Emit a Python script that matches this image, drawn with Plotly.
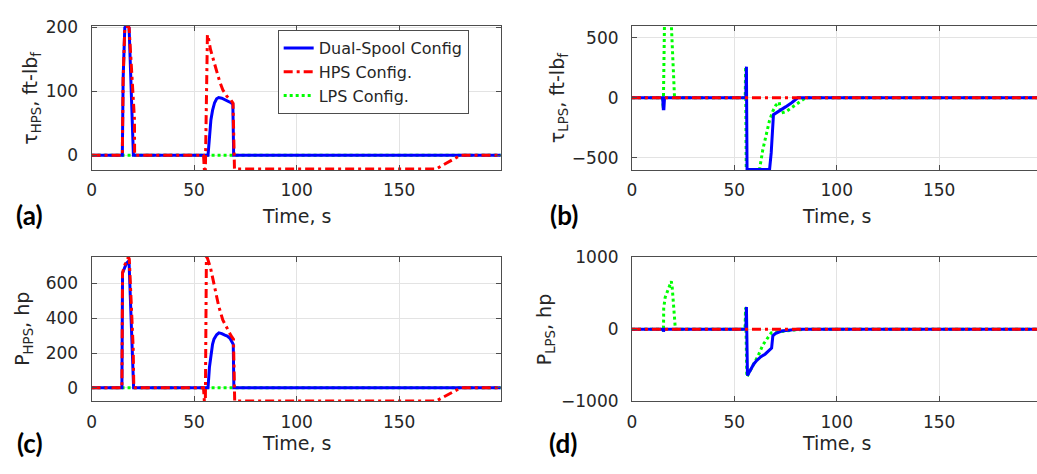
import plotly.graph_objects as go

W, H = 1037, 474

# ---------------- data ----------------
# Panel (a): tau_HPS, ft-lbf
a_dual_t = [0, 15.0, 15.4, 16.2, 16.8, 17.8, 18.3, 20.4, 56.8, 57.4, 58.2, 59.0, 60.0, 61.0, 62.0, 63.5, 65.0, 66.5, 68.0, 68.9, 69.3, 200]
a_dual_v = [0, 0, 120, 199, 201, 201, 199, 0, 0, 30, 55, 70, 82, 88, 90, 89, 87, 85, 82, 80, 0, 0]
a_hps_t = [0, 15.0, 15.4, 16.2, 16.8, 17.8, 18.3, 20.6, 20.9, 21.0, 54.6, 55.0, 55.5, 56.5, 57.0, 58.0, 60.0, 61.3, 62.5, 64.0, 66.0, 68.0, 69.0, 69.7, 168, 180, 200]
a_hps_v = [0, 0, 120, 199, 201, 201, 199, 62, 57, 0, 0, -21.5, -21.5, 188, 183, 165, 140, 128, 115, 102, 92, 86, 81, -21.5, -21.5, 0, 0]
a_lps_t = [0, 200]
a_lps_v = [0, 0]

# Panel (b): tau_LPS, ft-lbf
b_dual_t = [0, 15.0, 15.3, 15.6, 15.9, 55.6, 55.9, 56.2, 67.2, 68.0, 69.1, 72.0, 75.0, 78.0, 81.0, 200]
b_dual_v = [0, 0, -90, -90, 0, 0, 260, -596, -596, -458, -140, -110, -75, -40, 0, 0]
b_hps_t = [0, 200]
b_hps_v = [0, 0]
b_lps_t = [0, 14.9, 15.3, 15.95, 19.0, 20.8, 55.3, 55.5, 55.8, 62.3, 63.9, 65.5, 67.1, 68.7, 70.3, 71.9, 72.7, 75.2, 78.4, 83.2, 84.8, 200]
b_lps_v = [0, 0, -90, 700, 700, 0, 0, 260, -596, -596, -431, -312, -193, -114, -61, -35, -127, -114, -75, -21, 0, 0]

# Panel (c): P_HPS, hp
c_dual_t = [0, 14.8, 15.1, 16.0, 17.0, 17.8, 18.3, 20.5, 56.8, 57.5, 58.1, 59.0, 59.7, 61.0, 62.1, 63.5, 65.0, 66.2, 67.5, 68.6, 69.1, 69.4, 200]
c_dual_v = [0, 0, 660, 690, 715, 725, 715, 0, 0, 120, 188, 250, 280, 305, 316, 312, 303, 298, 285, 261, 250, 0, 0]
c_hps_t = [0, 14.8, 15.1, 16.0, 17.2, 18.0, 18.4, 20.3, 20.6, 54.6, 55.0, 55.5, 56.0, 56.5, 58.0, 60.0, 61.3, 62.0, 64.0, 66.0, 68.0, 69.2, 69.8, 168, 180, 200]
c_hps_v = [0, 0, 660, 700, 735, 750, 740, 225, 0, 0, -76, -76, 749, 745, 690, 580, 500, 470, 390, 340, 300, 280, -76, -76, 0, 0]
c_lps_t = [0, 200]
c_lps_v = [0, 0]

# Panel (d): P_LPS, hp
d_dual_t = [0, 15.1, 15.4, 15.8, 55.6, 55.9, 56.4, 58.0, 59.5, 61.0, 63.0, 65.0, 67.0, 68.2, 68.8, 70.0, 73.0, 77.0, 81.0, 200]
d_dual_v = [0, 0, -30, 0, 0, 310, -640, -560, -480, -430, -380, -345, -290, -260, -90, -60, -25, -8, 0, 0]
d_hps_t = [0, 200]
d_hps_v = [0, 0]
d_lps_t = [0, 15.1, 15.4, 15.5, 16.2, 17.5, 18.5, 19.2, 19.6, 20.2, 20.9, 21.2, 55.2, 55.5, 56.1, 58.0, 59.5, 61.5, 63.9, 66.4, 68.0, 72.0, 76.0, 80.0, 85.0, 200]
d_lps_v = [0, 0, -30, 290, 440, 540, 610, 665, 600, 350, 80, 0, 0, 300, -660, -560, -480, -374, -218, -107, -49, -35, -20, -8, 0, 0]

x_ticks = [0, 50, 100, 150]
a_yticks = [0, 100, 200]
b_yticks = [-500, 0, 500]
c_yticks = [0, 200, 400, 600]
d_yticks = [-1000, 0, 1000]

names = ["Dual-Spool Config", "HPS Config.", "LPS Config."]

# ---------------- styling ----------------
BLUE, RED, GREEN = "#0000ff", "#ff0000", "#00ff00"
TXT = "#262626"
FRAME = "#4d4d4d"
GRID = "#e3e3e3"
FONT = "DejaVu Sans, Arial, sans-serif"

fig = go.Figure()

panels = [
    ("x", "y", (a_dual_t, a_dual_v), (a_hps_t, a_hps_v), (a_lps_t, a_lps_v), True),
    ("x2", "y2", (b_dual_t, b_dual_v), (b_hps_t, b_hps_v), (b_lps_t, b_lps_v), False),
    ("x3", "y3", (c_dual_t, c_dual_v), (c_hps_t, c_hps_v), (c_lps_t, c_lps_v), False),
    ("x4", "y4", (d_dual_t, d_dual_v), (d_hps_t, d_hps_v), (d_lps_t, d_lps_v), False),
]

for xa, ya, dual, hps, lps, show in panels:
    # draw order: green (bottom), blue, red (top)
    fig.add_trace(go.Scatter(x=lps[0], y=lps[1], mode="lines", name=names[2],
                             line=dict(color=GREEN, width=3, dash="3px,3px"),
                             xaxis=xa, yaxis=ya, showlegend=show, legendrank=3))
    fig.add_trace(go.Scatter(x=dual[0], y=dual[1], mode="lines", name=names[0],
                             line=dict(color=BLUE, width=3),
                             xaxis=xa, yaxis=ya, showlegend=show, legendrank=1))
    fig.add_trace(go.Scatter(x=hps[0], y=hps[1], mode="lines", name=names[1],
                             line=dict(color=RED, width=3, dash="9px,4px,3px,4px"),
                             xaxis=xa, yaxis=ya, showlegend=show, legendrank=2))


def fx(p):
    return p / W


def fy(p):
    return 1 - p / H


common_x = dict(tickvals=x_ticks, showgrid=True, gridcolor=GRID, gridwidth=1,
                zeroline=False, showline=True, linecolor=FRAME, linewidth=1,
                ticks="inside", ticklen=5, tickcolor=FRAME,
                tickfont=dict(family=FONT, size=17, color=TXT), ticklabelstandoff=5)
common_y = dict(showgrid=True, gridcolor=GRID, gridwidth=1,
                zeroline=False, showline=True, linecolor=FRAME, linewidth=1,
                ticks="inside", ticklen=5, tickcolor=FRAME,
                tickfont=dict(family=FONT, size=17, color=TXT), ticklabelstandoff=9)

fig.update_layout(
    width=W, height=H,
    margin=dict(l=0, r=0, t=0, b=0),
    paper_bgcolor="white", plot_bgcolor="white",
    showlegend=True,
    legend=dict(x=fx(274), y=fy(21), xanchor="left", yanchor="top",
                bgcolor="white", bordercolor=FRAME, borderwidth=1,
                font=dict(family=FONT, size=16, color=TXT),
                tracegroupgap=0),
    xaxis=dict(domain=[fx(87), fx(498)], range=[0, 199.5], anchor="y", mirror="ticks", **common_x),
    yaxis=dict(domain=[fy(167), fy(16.5)], range=[-23, 202], tickvals=a_yticks, anchor="x", mirror="ticks", **common_y),
    xaxis2=dict(domain=[fx(630), 1.0], range=[0, 197.8], anchor="y2", mirror="ticks", **common_x),
    yaxis2=dict(domain=[fy(167), fy(16.5)], range=[-600, 600], tickvals=b_yticks, anchor="x2", mirror=False, **common_y),
    xaxis3=dict(domain=[fx(87), fx(498)], range=[0, 199.5], anchor="y3", mirror="ticks", **common_x),
    yaxis3=dict(domain=[fy(408.7), fy(258)], range=[-78, 751], tickvals=c_yticks, anchor="x3", mirror="ticks", **common_y),
    xaxis4=dict(domain=[fx(630), 1.0], range=[0, 197.8], anchor="y4", mirror="ticks", **common_x),
    yaxis4=dict(domain=[fy(408.7), fy(258)], range=[-1000, 1000], tickvals=d_yticks, anchor="x4", mirror=False, **common_y),
)

ann = []
title_font = dict(family=FONT, size=19, color=TXT)
# x titles
for cx, cy in [(292.5, 215), (836, 215), (292.5, 452), (836, 452)]:
    ann.append(dict(text="Time, s", x=fx(cx), y=fy(cy), xref="paper", yref="paper",
                    xanchor="center", yanchor="middle", showarrow=False, font=title_font))
# y titles
ytitles = [
    ("τ<sub>HPS</sub>, ft-lb<sub>f</sub>", 27, 91.75),
    ("τ<sub>LPS</sub>, ft-lb<sub>f</sub>", 557, 91.75),
    ("P<sub>HPS</sub>, hp", 19, 333),
    ("P<sub>LPS</sub>, hp", 544, 333),
]
for txt, cx, cy in ytitles:
    ann.append(dict(text=txt, x=fx(cx), y=fy(cy), xref="paper", yref="paper",
                    xanchor="center", yanchor="middle", textangle=-90, showarrow=False, font=title_font))
# panel letters
for txt, cx, cy in [("(a)", 25, 214), ("(b)", 562, 214), ("(c)", 25, 452), ("(d)", 561, 452)]:
    ann.append(dict(text="<b>" + txt + "</b>", x=fx(cx), y=fy(cy), xref="paper", yref="paper",
                    xanchor="center", yanchor="middle", showarrow=False,
                    font=dict(family="Lato, Open Sans, sans-serif", size=26, color="#000000")))
fig.update_layout(annotations=ann)

fig.write_html("out.html")
